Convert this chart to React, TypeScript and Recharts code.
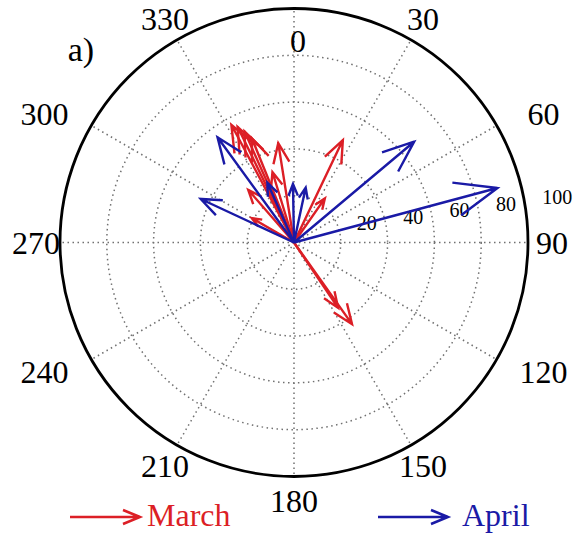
import React from 'react';
import {
  ScatterChart, Scatter, XAxis, YAxis,
  RadarChart, PolarGrid, PolarAngleAxis, PolarRadiusAxis, Radar,
} from 'recharts';

// ---- data (compass: direction in degrees clockwise from north, magnitude) ----
const ANGLE_TICKS = [0, 30, 60, 90, 120, 150, 180, 210, 240, 270, 300, 330];
const RADIUS_TICKS = [20, 40, 60, 80, 100];

const MARCH_MAG = [57, 55, 52, 48, 43, 48.5, 23, 31.5, 29.8, 20.8, 42.8, 33.7];
const MARCH_DIR = [332, 334, 336, 338, 351, 25.5, 35, 343, 319, 300, 144.6, 146];

const APRIL_MAG = [90, 67, 55.6, 44, 25, 24, 28];
const APRIL_DIR = [75, 50, 324, 295, 359, 12, 336];

const SERIES = [
  { name: 'March', color: '#dc1f26', mags: MARCH_MAG, dirs: MARCH_DIR },
  { name: 'April', color: '#1a1aa6', mags: APRIL_MAG, dirs: APRIL_DIR },
];

// ---- layout ----
const W = 577;
const H = 537;
const CX = 294;
const CY = 242.5;
const R = 234;
const FONT = '"Liberation Serif", "Times New Roman", serif';

// MATLAB compass-style arrow: shaft plus two barbs (head = 20% of length)
function arrowPoints(mag: number, dir: number) {
  const t = (dir * Math.PI) / 180;
  const x = mag * Math.sin(t);
  const y = mag * Math.cos(t);
  const px = -y;
  const py = x;
  return [
    { x: 0, y: 0 },
    { x, y },
    { x: 0.8 * x + 0.08 * px, y: 0.8 * y + 0.08 * py },
    { x, y },
    { x: 0.8 * x - 0.08 * px, y: 0.8 * y - 0.08 * py },
  ];
}

const NoShape = () => <g />;

const renderAngleTick = (props: any) => {
  const v = Number(props.payload?.value);
  const t = (v * Math.PI) / 180;
  const r = v === 0 ? 202 : 258;
  let x = CX + r * Math.sin(t);
  const y = CY - r * Math.cos(t);
  const s = Math.sin(t);
  if (Math.abs(Math.abs(s) - 0.866) < 0.01) x += 26 * Math.sign(s);
  if (v === 0) x += 4;
  return (
    <text x={x} y={y} textAnchor="middle" dominantBaseline="central"
      fontFamily={FONT} fontSize={32} fill="#000">
      {v}
    </text>
  );
};

const renderRadiusTick = (props: any) => {
  const v = Number(props.payload?.value);
  if (!v) return <g />;
  return (
    <text x={props.x + 16.5} y={props.y - 12.5} textAnchor="start" dominantBaseline="central"
      fontFamily={FONT} fontSize={20} fill="#000">
      {v}
    </text>
  );
};

export default function App() {
  const gridData = ANGLE_TICKS.map((a) => ({ angle: a, zero: 0 }));
  return (
    <div style={{ position: 'absolute', left: 0, top: 0, width: W, height: H, background: '#fff' }}>
      <div style={{ position: 'absolute', left: 0, top: 0 }}>
        <RadarChart width={W} height={H} cx={CX} cy={CY} outerRadius={R} innerRadius={0}
          startAngle={90} endAngle={-270} data={gridData}
          margin={{ top: 0, right: 0, bottom: 0, left: 0 }}>
          <PolarGrid gridType="circle"
            polarRadius={RADIUS_TICKS.slice(0, -1).map((v) => (v * R) / 100)}
            stroke="#707070" strokeWidth={1.5} strokeDasharray="1.5 3.5" />
          <PolarGrid gridType="circle" polarRadius={[R]} radialLines={false}
            stroke="#000" strokeWidth={2.8} />
          <PolarAngleAxis dataKey="angle" tick={renderAngleTick} axisLine={false} tickLine={false} />
          <PolarRadiusAxis angle={8} type="number" domain={[0, 100]} ticks={RADIUS_TICKS}
            tickCount={6} tick={renderRadiusTick} axisLine={false} tickLine={false} />
          <Radar dataKey="zero" stroke="none" fill="none" dot={false} isAnimationActive={false} />
        </RadarChart>
      </div>
      <div style={{ position: 'absolute', left: 0, top: 0 }}>
        <ScatterChart width={W} height={H}
          margin={{ top: CY - R, bottom: H - (CY + R), left: CX - R, right: W - (CX + R) }}>
          <XAxis type="number" dataKey="x" domain={[-100, 100]} hide allowDataOverflow />
          <YAxis type="number" dataKey="y" domain={[-100, 100]} hide allowDataOverflow />
          {SERIES.map((s) =>
            s.mags.map((m, i) => (
              <Scatter key={`${s.name}-${i}`} name={s.name} data={arrowPoints(m, s.dirs[i])}
                fill={s.color} stroke={s.color}
                line={{ stroke: s.color, strokeWidth: 2.4 }} lineType="joint"
                shape={NoShape} isAnimationActive={false} />
            ))
          )}
        </ScatterChart>
      </div>
      <svg width={W} height={H} style={{ position: 'absolute', left: 0, top: 0, pointerEvents: 'none' }}>
        <text x={81} y={61} textAnchor="middle" fontFamily={FONT} fontSize={34} fill="#000">a)</text>
        {SERIES.map((s, i) => {
          const x0 = i === 0 ? 70 : 378;
          const x1 = x0 + 70;
          const y = 517;
          return (
            <g key={s.name}>
              <polyline points={`${x0},${y} ${x1},${y} ${x1 - 17},${y - 7} ${x1},${y} ${x1 - 17},${y + 7}`}
                fill="none" stroke={s.color} strokeWidth={2.5} />
              <text x={i === 0 ? 147 : 462} y={526} fontFamily={FONT} fontSize={32} fill={s.color}>{s.name}</text>
            </g>
          );
        })}
      </svg>
    </div>
  );
}
